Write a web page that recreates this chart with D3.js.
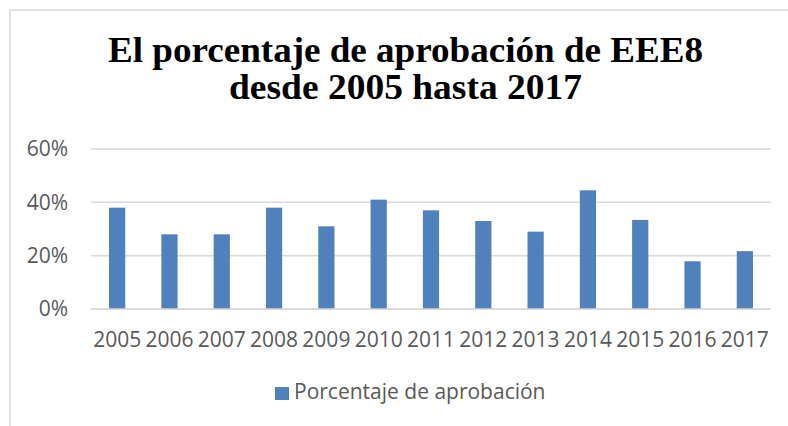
<!DOCTYPE html>
<html>
<head>
<meta charset="utf-8">
<script src="https://cdn.jsdelivr.net/npm/d3@7"></script>
<style>
  html, body { margin: 0; padding: 0; background: #fff; }
  svg { display: block; }
</style>
</head>
<body>
<svg id="chart"></svg>
<script>
// values
const years = ["2005", "2006", "2007", "2008", "2009", "2010", "2011", "2012", "2013", "2014", "2015", "2016", "2017"];
const aprobacion = [0.38, 0.28, 0.28, 0.38, 0.31, 0.41, 0.37, 0.33, 0.29, 0.445, 0.334, 0.179, 0.217];
const yTicks = [0, 0.2, 0.4, 0.6];
const titleLines = ["El porcentaje de aprobación de EEE8", "desde 2005 hasta 2017"];
const seriesName = "Porcentaje de aprobación";

const width = 788,
    height = 426,
    margin = {top: 149, right: 17, bottom: 117, left: 91},
    gray = "#d9d9d9",
    barColor = "#4f81bd",
    labelFont = "'Open Sans', 'DejaVu Sans', sans-serif";

const svg = d3.select("#chart")
    .attr("width", width)
    .attr("height", height);

// chart frame (right and bottom edges fall outside the picture)
svg.append("rect")
    .attr("x", 10).attr("y", 10)
    .attr("width", width + 20).attr("height", height + 20)
    .attr("fill", "none")
    .attr("stroke", gray)
    .attr("stroke-width", 1.5);

// title
const title = svg.append("text")
    .attr("text-anchor", "middle")
    .attr("font-family", "'Liberation Serif', 'Times New Roman', serif")
    .attr("font-weight", "bold")
    .attr("font-size", 36)
    .attr("fill", "#000");
title.selectAll("tspan")
    .data(titleLines)
    .enter().append("tspan")
    .attr("x", 405.5)
    .attr("y", (d, i) => 62 + i * 37)
    .attr("textLength", (d, i) => i === 0 ? 595 : 353)
    .attr("lengthAdjust", "spacingAndGlyphs")
    .text(d => d);

const x = d3.scaleBand()
    .domain(years)
    .range([margin.left, width - margin.right])
    .paddingInner(0.69)
    .paddingOuter(0.345);

const y = d3.scaleLinear()
    .domain([0, 0.6])
    .range([height - margin.bottom, margin.top]);

// gridlines
svg.append("g")
    .selectAll("line")
    .data(yTicks)
    .enter().append("line")
    .attr("x1", margin.left)
    .attr("x2", width - margin.right)
    .attr("y1", d => y(d))
    .attr("y2", d => y(d))
    .attr("stroke", gray)
    .attr("stroke-width", 1.5);

// y axis labels
const pct = d3.format(".0%");
svg.append("g")
    .selectAll("text")
    .data(yTicks)
    .enter().append("text")
    .attr("x", 68)
    .attr("y", d => y(d))
    .attr("dy", "0.35em")
    .attr("text-anchor", "end")
    .attr("font-family", labelFont)
    .attr("font-size", 21)
    .attr("fill", "#595959")
    .text(d => pct(d));

// bars
svg.append("g")
    .selectAll("rect")
    .data(aprobacion)
    .enter().append("rect")
    .attr("x", (d, i) => x(years[i]))
    .attr("y", d => y(d))
    .attr("width", x.bandwidth())
    .attr("height", d => y(0) - y(d))
    .attr("fill", barColor);

// redraw baseline over the bars
svg.append("line")
    .attr("x1", margin.left)
    .attr("x2", width - margin.right)
    .attr("y1", y(0))
    .attr("y2", y(0))
    .attr("stroke", gray)
    .attr("stroke-width", 1.5);

// x axis labels
svg.append("g")
    .selectAll("text")
    .data(years)
    .enter().append("text")
    .attr("x", d => x(d) + x.bandwidth() / 2)
    .attr("y", 347)
    .attr("text-anchor", "middle")
    .attr("font-family", labelFont)
    .attr("font-size", 21)
    .attr("fill", "#595959")
    .text(d => d);

// legend
const legend = svg.append("g");
legend.append("rect")
    .attr("x", 275).attr("y", 387)
    .attr("width", 14).attr("height", 13)
    .attr("fill", barColor);
legend.append("text")
    .attr("x", 294)
    .attr("y", 399)
    .attr("font-family", labelFont)
    .attr("font-size", 21)
    .attr("fill", "#595959")
    .text(seriesName);
</script>
</body>
</html>
